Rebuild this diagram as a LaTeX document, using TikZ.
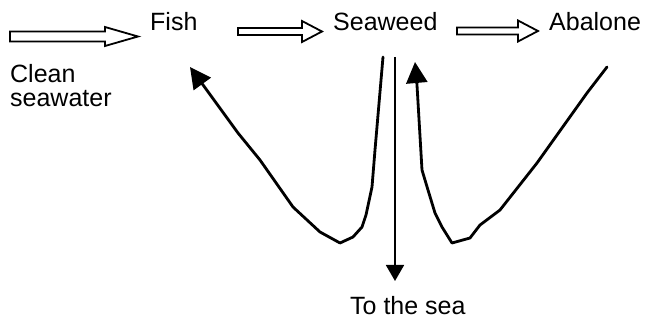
\documentclass[tikz,border=0pt]{standalone}
\usepackage{fontspec}
\setmainfont{Liberation Sans}
\usetikzlibrary{arrows.meta}
\begin{document}
\begin{tikzpicture}[x=1pt,y=-1pt,
  lbl/.style={inner sep=0pt,anchor=base west,font=\fontsize{25}{24}\selectfont},
  hollow/.style={draw=black,line width=1.8pt,fill=white,line join=miter},
  flow/.style={line width=2.8pt,line join=round,line cap=round},
  tip/.style={-{Triangle[length=21pt,width=21pt]}}]
\useasboundingbox (0,0) rectangle (649,323);
% labels
\node[lbl] (fish) at (150,31) {Fish};
\node[lbl] (seaweed) at (333,31) {Seaweed};
\node[lbl] (abalone) at (549,31) {Abalone};
\node[lbl,align=left] (clean) at (10,107) {Clean\\seawater};
\node[lbl] (sea) at (350,315) {To the sea};
% hollow arrows
\draw[hollow] (10,31.5) -- (105,31.5) -- (105,27) -- (138,36.5) -- (105,46) -- (105,41.5) -- (10,41.5) -- cycle;
\draw[hollow] (238,28) -- (302,28) -- (302,21) -- (322,31.5) -- (302,42) -- (302,35) -- (238,35) -- cycle;
\draw[hollow] (457,27.5) -- (518,27.5) -- (518,20.5) -- (538,31) -- (518,41.5) -- (518,34.5) -- (457,34.5) -- cycle;
% down arrow to the sea
\coordinate (dtop) at (395,57);
\coordinate (dtip) at (395,281);
\draw[line width=1.8pt,-{Triangle[length=16pt,width=18pt]}] (dtop) -- (dtip);
% curve to fish
\coordinate (ltop) at (383,57);
\coordinate (ltip) at (190,67);
\draw[flow,tip] (ltop) -- (375,150) -- (372,187) -- (366,215) -- (362,227) -- (353,237) -- (340,243) -- (320,232) -- (293,207) -- (260,160) -- (238,133) -- (ltip);
% curve to seaweed
\coordinate (rtop) at (607,67);
\coordinate (rtip) at (415,62);
\draw[flow,tip] (rtop) -- (587,93) -- (577,107) -- (537,163) -- (500,210) -- (480,225) -- (470,238) -- (452,243) -- (442,227) -- (435,213) -- (428,190) -- (422,170) -- (417,85) -- (rtip);
\end{tikzpicture}
\end{document}
